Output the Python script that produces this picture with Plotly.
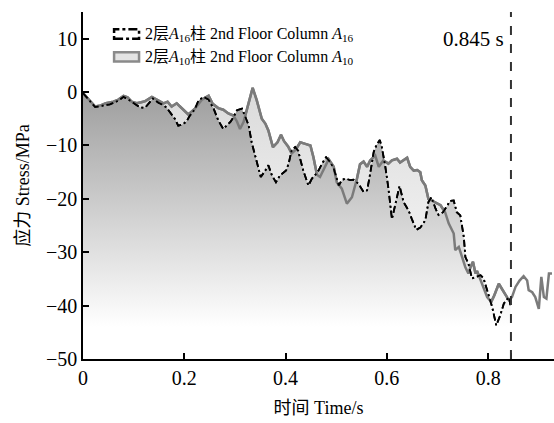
import plotly.graph_objects as go

# Stress time histories, 2nd floor columns A10 and A16 (time in s, stress in MPa)
t_a10 = [0.000, 0.010, 0.024, 0.035, 0.045, 0.060, 0.070, 0.080, 0.088, 0.096,
         0.106, 0.115, 0.123, 0.136, 0.149, 0.159, 0.167, 0.175, 0.185, 0.195,
         0.208, 0.221, 0.235, 0.248, 0.256, 0.267, 0.277, 0.287, 0.297, 0.304,
         0.310, 0.317, 0.327, 0.335, 0.343, 0.353, 0.360, 0.366, 0.375, 0.384,
         0.391, 0.397, 0.405, 0.412, 0.420, 0.429, 0.439, 0.449, 0.455, 0.462,
         0.468, 0.478, 0.485, 0.495, 0.501, 0.511, 0.521, 0.531, 0.541, 0.547,
         0.554, 0.561, 0.567, 0.577, 0.584, 0.593, 0.603, 0.610, 0.620, 0.626,
         0.633, 0.640, 0.646, 0.653, 0.660, 0.666, 0.669, 0.676, 0.682, 0.692,
         0.706, 0.715, 0.722, 0.732, 0.735, 0.742, 0.748, 0.755, 0.761, 0.765,
         0.770, 0.775, 0.778, 0.785, 0.791, 0.798, 0.806, 0.812, 0.821, 0.827,
         0.834, 0.841, 0.847, 0.854, 0.862, 0.870, 0.877, 0.880, 0.887, 0.893,
         0.900, 0.905, 0.910, 0.915, 0.920, 0.926]
s_a10 = [-0.2, -1.2, -2.7, -2.5, -2.1, -1.8, -1.4, -0.7, -1.0, -1.8,
         -2.1, -1.9, -1.7, -0.9, -1.6, -2.1, -1.8, -2.7, -2.1, -3.1,
         -4.2, -3.1, -1.4, -0.7, -2.2, -3.0, -3.3, -4.0, -4.4, -5.5,
         -6.9, -5.6, -2.0, 0.8, -1.5, -5.0, -5.9, -7.2, -10.3, -9.4,
         -8.0, -9.2, -10.2, -11.5, -10.8, -9.4, -9.7, -10.0, -12.2, -15.5,
         -15.9, -14.0, -12.6, -14.0, -16.9, -18.1, -20.9, -19.7, -16.2, -13.5,
         -13.0, -14.0, -12.8, -11.9, -14.0, -12.8, -13.4, -12.8, -12.5, -13.2,
         -12.8, -12.3, -14.0, -14.7, -14.6, -15.0, -16.5, -17.5, -20.0, -20.5,
         -21.2, -22.5, -24.6, -26.5, -29.6, -29.0, -30.9, -32.8, -34.0, -32.8,
         -31.8, -34.0, -33.5, -35.3, -36.5, -38.4, -39.3, -38.1, -35.9, -36.8,
         -37.8, -39.0, -38.4, -36.5, -35.3, -34.5, -35.3, -37.1, -37.5, -38.4,
         -40.6, -34.6, -38.4, -38.7, -34.0, -34.0]

t_a16 = [0.000, 0.010, 0.024, 0.035, 0.053, 0.070, 0.080, 0.090, 0.100, 0.113,
         0.123, 0.130, 0.138, 0.149, 0.158, 0.165, 0.172, 0.182, 0.188, 0.198,
         0.205, 0.211, 0.221, 0.228, 0.238, 0.248, 0.258, 0.267, 0.277, 0.284,
         0.291, 0.297, 0.304, 0.314, 0.320, 0.327, 0.333, 0.340, 0.347, 0.351,
         0.360, 0.366, 0.373, 0.381, 0.389, 0.395, 0.401, 0.406, 0.412, 0.419,
         0.425, 0.429, 0.435, 0.445, 0.452, 0.458, 0.465, 0.472, 0.480, 0.488,
         0.495, 0.505, 0.511, 0.518, 0.528, 0.534, 0.544, 0.554, 0.561, 0.567,
         0.574, 0.580, 0.586, 0.590, 0.597, 0.603, 0.610, 0.617, 0.625, 0.633,
         0.643, 0.649, 0.658, 0.666, 0.676, 0.682, 0.688, 0.696, 0.702, 0.711,
         0.719, 0.725, 0.732, 0.738, 0.745, 0.752, 0.755, 0.761, 0.768, 0.775,
         0.785, 0.791, 0.798, 0.808, 0.816, 0.824, 0.831, 0.841, 0.844]
s_a16 = [-0.2, -1.3, -2.8, -2.6, -2.3, -1.6, -0.9, -1.4, -2.0, -2.9,
         -2.9, -2.0, -1.2, -2.0, -2.4, -2.9, -3.8, -5.1, -6.3, -6.0,
         -5.4, -4.4, -3.2, -1.6, -0.9, -1.4, -3.1, -5.3, -6.9, -6.2,
         -5.6, -4.7, -3.4, -3.1, -4.4, -6.2, -9.4, -11.9, -14.3, -15.9,
         -14.7, -13.7, -15.6, -16.9, -15.6, -15.2, -14.7, -13.4, -10.9, -10.3,
         -11.0, -12.6, -14.7, -17.5, -16.2, -15.6, -14.7, -13.4, -12.2, -13.1,
         -14.3, -17.5, -16.5, -16.2, -16.5, -16.4, -17.2, -18.7, -18.4, -15.3,
         -11.2, -9.8, -9.0, -10.3, -14.0, -18.0, -23.8, -20.9, -17.6, -20.6,
         -22.2, -23.7, -25.8, -25.4, -24.0, -20.6, -19.7, -21.8, -23.0, -22.5,
         -21.2, -20.4, -20.3, -22.5, -23.1, -27.2, -30.9, -32.1, -34.9, -34.6,
         -34.3, -34.9, -37.1, -40.3, -43.7, -41.8, -39.6, -38.4, -39.9]

T_MARK = 0.845            # marked instant, s
Y_FLOOR = -50             # lower limit of the stress axis
X_TICKS = [0, 0.2, 0.4, 0.6, 0.8]
X_TICK_TEXT = ["0", "0.2", "0.4", "0.6", "0.8"]
Y_TICKS = [10, 0, -10, -20, -30, -40, -50]

NAME_A16 = "2层<i>A</i><sub>16</sub>柱 2nd Floor Column <i>A</i><sub>16</sub>"
NAME_A10 = "2层<i>A</i><sub>10</sub>柱 2nd Floor Column <i>A</i><sub>10</sub>"

FONT = "Liberation Serif, Noto Sans CJK SC, serif"
A10_COLOR = "#7b7b7b"
A16_COLOR = "#000000"
A16_DASH = "7px,3px,2px,3px"

# shaded areas only run up to the marked instant
fill_a10 = [(t, s) for t, s in zip(t_a10, s_a10) if t <= T_MARK]
fx10, fy10 = [p[0] for p in fill_a10], [p[1] for p in fill_a10]

fig = go.Figure()


def add_floor(xs):
    fig.add_trace(go.Scatter(x=[xs[0], xs[-1]], y=[Y_FLOOR, Y_FLOOR], mode="lines",
                             line=dict(width=0), showlegend=False, hoverinfo="skip"))


add_floor(fx10)
fig.add_trace(go.Scatter(
    x=fx10, y=fy10, mode="lines", name=NAME_A10,
    line=dict(color=A10_COLOR, width=2.5), fill="tonexty",
    fillgradient=dict(type="vertical", start=-46, stop=1,
                      colorscale=[[0, "#ffffff"], [1, "#dadada"]])))

add_floor(t_a16)
fig.add_trace(go.Scatter(
    x=t_a16, y=s_a16, mode="lines", name=NAME_A16,
    line=dict(color=A16_COLOR, width=1.8, dash=A16_DASH), fill="tonexty",
    fillgradient=dict(type="vertical", start=-44, stop=1,
                      colorscale=[[0, "#ffffff"], [1, "#9c9c9c"]])))

# curves on top of both shaded areas
fig.add_trace(go.Scatter(x=t_a10, y=s_a10, mode="lines", name=NAME_A10,
                         line=dict(color=A10_COLOR, width=2.5)))
fig.add_trace(go.Scatter(x=t_a16, y=s_a16, mode="lines", name=NAME_A16,
                         line=dict(color=A16_COLOR, width=1.8, dash=A16_DASH)))

fig.add_shape(type="line", xref="x", yref="paper", x0=T_MARK, x1=T_MARK, y0=0, y1=1,
              line=dict(color="#333333", width=2, dash="dash"))
fig.add_annotation(x=T_MARK, y=10, xref="x", yref="y", text=f"{T_MARK} s",
                   showarrow=False, xanchor="right", xshift=-5,
                   font=dict(family=FONT, size=21, color="#000000"))

# key: outlined boxes with labels, one row per column
legend_rows = [
    (NAME_A16, dict(color=A16_COLOR, width=2.5, dash="dashdot"), "#ffffff"),
    (NAME_A10, dict(color="#8a8a8a", width=2.5), "#e3e3e3"),
]
for i, (label, border, face) in enumerate(legend_rows):
    y_mid = 0.936 - i * 0.066
    fig.add_shape(type="rect", xref="paper", yref="paper",
                  x0=0.066, x1=0.119, y0=y_mid - 0.013, y1=y_mid + 0.014,
                  line=border, fillcolor=face)
    fig.add_annotation(x=0.128, y=y_mid, xref="paper", yref="paper", text=label,
                       showarrow=False, xanchor="left", yanchor="middle",
                       font=dict(family=FONT, size=16, color="#000000"))

axis_common = dict(showline=True, linecolor="#000000", linewidth=1.5, mirror=False,
                   ticks="inside", ticklen=6, tickwidth=1.5, tickcolor="#000000",
                   showgrid=False, zeroline=False,
                   tickfont=dict(family=FONT, size=20, color="#000000"))

fig.update_layout(
    width=554, height=423,
    margin=dict(l=83, r=0, t=12, b=64),
    paper_bgcolor="#ffffff", plot_bgcolor="#ffffff",
    font=dict(family=FONT, color="#000000"),
    showlegend=False,
    xaxis=dict(range=[0, 0.93], tickvals=X_TICKS + [T_MARK], ticktext=X_TICK_TEXT + [""],
               title=dict(text="时间 Time/s", font=dict(family=FONT, size=18), standoff=14),
               **axis_common),
    yaxis=dict(range=[Y_FLOOR, 15], tickvals=Y_TICKS,
               title=dict(text="应力 Stress/MPa", font=dict(family=FONT, size=18), standoff=12),
               **axis_common),
)

fig.write_html("out.html")
